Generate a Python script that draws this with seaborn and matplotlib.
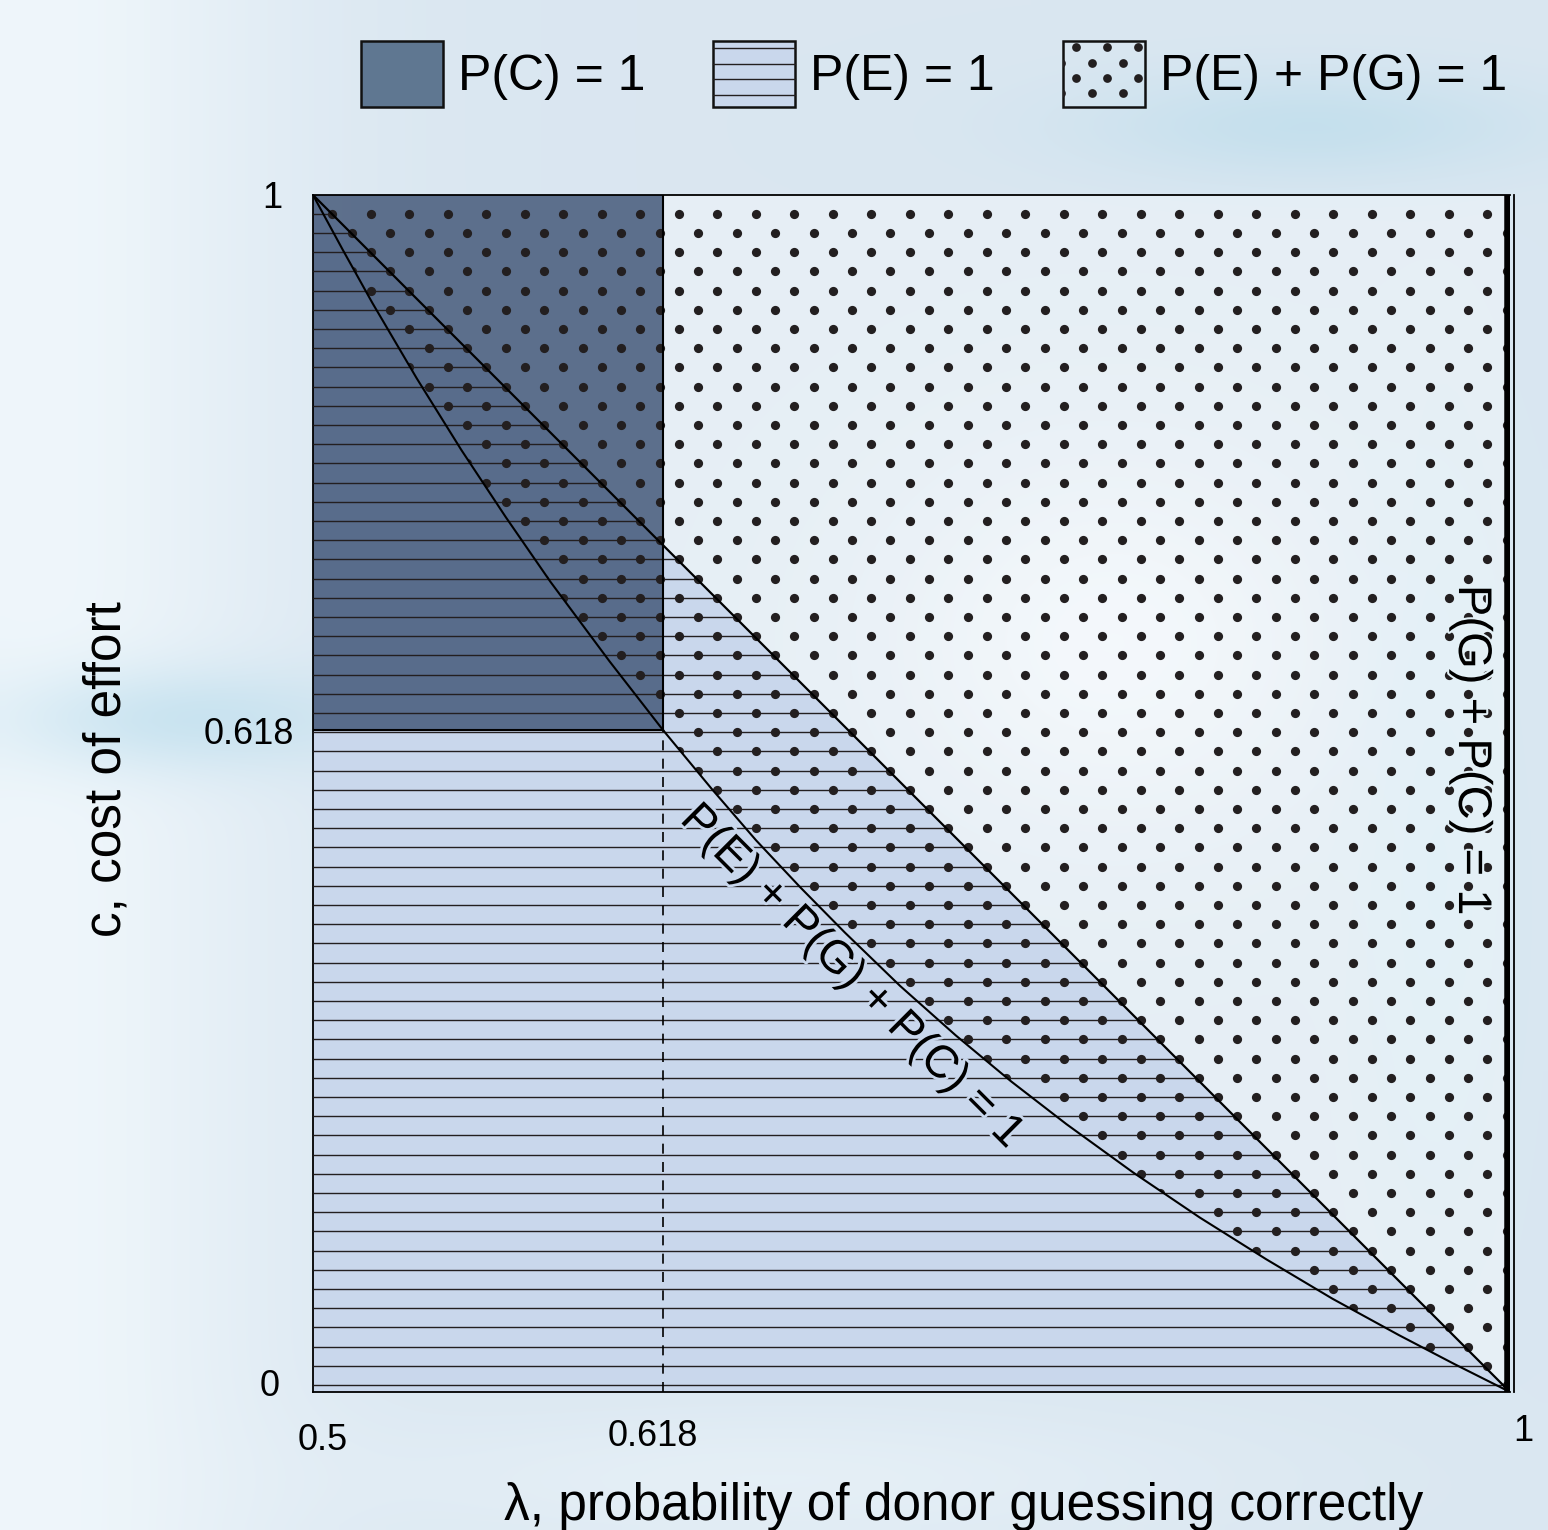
import numpy as np
import matplotlib
matplotlib.use("Agg")
import matplotlib.pyplot as plt
import seaborn as sns
from matplotlib.patches import Polygon, Rectangle
from matplotlib.legend_handler import HandlerBase
from matplotlib.lines import Line2D
from matplotlib.collections import LineCollection
import matplotlib.patheffects as pe
import matplotlib.transforms as mtransforms

# ---------------- data ----------------
lam_ticks = [0.5, 0.618, 1.0]
lam_tick_labels = ["0.5", "0.618", "1"]
c_ticks = [0.0, 0.618, 1.0]
c_tick_labels = ["0", "0.618", "1"]

# schematic (non-linear) axes: where each tick value sits along the axis
lam_axis_frac = [0.0, 0.2924, 1.0]
c_axis_frac = [0.0, 0.553, 1.0]

# boundary P(E) + P(G) + P(C) = 1 (curve)
curve_lam = [0.500, 0.510, 0.520, 0.535, 0.550, 0.565, 0.580, 0.600, 0.618,
             0.640, 0.660, 0.680, 0.700, 0.725, 0.750, 0.775, 0.800, 0.830,
             0.860, 0.890, 0.920, 0.950, 0.975, 1.000]
curve_c = [1.000, 0.961, 0.923, 0.869, 0.818, 0.770, 0.724, 0.667, 0.618,
           0.563, 0.515, 0.471, 0.429, 0.379, 0.333, 0.290, 0.250, 0.205,
           0.163, 0.124, 0.087, 0.053, 0.026, 0.000]
# straight upper boundary of the P(E) = 1 region
diag_lam = [0.500, 0.618, 0.7015, 1.000]
diag_c = [1.000, 0.750, 0.618, 0.000]
# P(C) = 1 box
pc_lam = [0.5, 0.618]
pc_c = [0.618, 1.0]
lam_edge = 1.0

legend_labels = ["P(C) = 1", "P(E) = 1", "P(E) + P(G) = 1"]
curve_label = "P(E) + P(G) + P(C) = 1"
edge_label = "P(G) + P(C) = 1"
xlabel = "λ, probability of donor guessing correctly"
ylabel = "c, cost of effort"

# ---------------- style ----------------
sns.set_style("white")
plt.rcParams["font.family"] = ["Liberation Sans", "DejaVu Sans"]
plt.rcParams["text.color"] = "black"
plt.rcParams["axes.labelcolor"] = "black"
plt.rcParams["xtick.color"] = "black"
plt.rcParams["ytick.color"] = "black"

DARK = "#44597a"
LIGHT = "#c9d7ec"
INK = "#231f20"

DPI = 100
fig = plt.figure(figsize=(15.48, 15.30), dpi=DPI)

# ---------- decorative background ----------
bg = fig.add_axes([0, 0, 1, 1], zorder=-10)
H, W = 160, 162
u = np.linspace(0, 1, W)[None, :]
v = np.linspace(0, 1, H)[:, None]
img = np.ones((H, W, 3)) * np.array([0.855, 0.905, 0.945])


def blend(img, w, col):
    w = np.clip(w, 0, 1)[..., None]
    return img * (1 - w) + np.array(col) * w


img = blend(img, 0.85 * np.exp(-((u - 0.02) / 0.16) ** 2) * np.ones_like(v), (0.95, 0.975, 0.99))
img = blend(img, 0.7 * np.exp(-((u - 0.12) / 0.12) ** 2 - ((v - 0.47) / 0.035) ** 2), (0.74, 0.87, 0.93))
img = blend(img, 0.6 * np.exp(-((u - 0.85) / 0.15) ** 2 - ((v - 0.08) / 0.035) ** 2), (0.72, 0.86, 0.92))
img = blend(img, 0.7 * np.exp(-((u - 0.72) / 0.14) ** 2 - ((v - 0.42) / 0.12) ** 2), (0.97, 0.985, 0.995))
img = blend(img, 0.6 * np.exp(-((u - 0.93) / 0.05) ** 2 - ((v - 0.55) / 0.25) ** 2), (0.82, 0.92, 0.96))
img = blend(img, 0.5 * np.exp(-((u - 0.5) / 0.3) ** 2 - ((v - 0.97) / 0.05) ** 2), (0.94, 0.97, 0.985))
bg.imshow(img, extent=[0, 1, 0, 1], aspect="auto", interpolation="bilinear", origin="upper")
bg.set_axis_off()

# ---------- main axes ----------
ax = fig.add_axes([313 / 1548, 138 / 1530, 1197 / 1548, 1197 / 1530])
ax.set_facecolor("none")


def piecewise(pts, frac):
    pts = np.asarray(pts, float)
    frac = np.asarray(frac, float)
    s0 = (frac[1] - frac[0]) / (pts[1] - pts[0])
    s1 = (frac[-1] - frac[-2]) / (pts[-1] - pts[-2])

    def fwd(x):
        x = np.asarray(x, float)
        out = np.interp(x, pts, frac)
        out = np.where(x < pts[0], frac[0] + (x - pts[0]) * s0, out)
        out = np.where(x > pts[-1], frac[-1] + (x - pts[-1]) * s1, out)
        return out

    def inv(y):
        y = np.asarray(y, float)
        out = np.interp(y, frac, pts)
        out = np.where(y < frac[0], pts[0] + (y - frac[0]) / s0, out)
        out = np.where(y > frac[-1], pts[-1] + (y - frac[-1]) / s1, out)
        return out

    return fwd, inv


# boundary lines via seaborn
sns.lineplot(x=curve_lam, y=curve_c, color="black", lw=1.5, ax=ax, zorder=6)
sns.lineplot(x=diag_lam, y=diag_c, color="black", lw=1.6, ax=ax, zorder=6)

ax.set_xscale("function", functions=piecewise(lam_ticks, lam_axis_frac))
ax.set_yscale("function", functions=piecewise(c_ticks, c_axis_frac))

# region fills
below_diag = Polygon(list(zip([pc_lam[0]] + diag_lam + [lam_edge], [0.0] + diag_c + [0.0])),
                     closed=True, facecolor=LIGHT, edgecolor="none", zorder=1)
above_diag = Polygon(list(zip(diag_lam + [lam_edge], diag_c + [1.0])),
                     closed=True, facecolor="white", alpha=0.35, edgecolor="none", zorder=1)
above_curve = Polygon(list(zip(curve_lam + [lam_edge], curve_c + [1.0])),
                      closed=True, facecolor="none", edgecolor="none", zorder=1)
ax.add_patch(below_diag)
ax.add_patch(above_diag)
ax.add_patch(above_curve)

pc_box = Rectangle((pc_lam[0], pc_c[0]), pc_lam[1] - pc_lam[0], pc_c[1] - pc_c[0],
                   facecolor=DARK, alpha=0.85, edgecolor="none", zorder=2)
ax.add_patch(pc_box)

# textures (hatch-like patterns in axes coordinates)
step_y = 19.2 / 1197
step_x = 19.25 / 1197
y0 = 7 / 1197
rows = np.arange(y0, 1.0, step_y)
segs = [[(0, yy), (1, yy)] for yy in rows]
lc = LineCollection(segs, colors=INK, linewidths=1.0, transform=ax.transAxes, zorder=3)
ax.add_collection(lc)
lc.set_clip_path(below_diag)

cols = np.arange(0, 1.0 + step_x / 2, step_x)
dx, dy = [], []
for k, yy in enumerate(rows):
    for j, xx in enumerate(cols):
        if (j + k) % 2 == 0:
            dx.append(xx)
            dy.append(yy)
sc = ax.scatter(dx, dy, s=44, color=INK, linewidths=0, transform=ax.transAxes, zorder=4)
sc.set_clip_path(above_curve)

# P(C) box edges and guide
ax.plot([pc_lam[1], pc_lam[1]], [pc_c[0], pc_c[1]], color="black", lw=1.5, zorder=6)
ax.plot([pc_lam[0], pc_lam[1]], [pc_c[0], pc_c[0]], color="black", lw=1.5, zorder=6)
ax.plot([pc_lam[1], pc_lam[1]], [0, pc_c[0]], color="black", lw=1.2,
        linestyle=(0, (6, 5)), zorder=6)
ax.axvline(lam_edge, color="black", lw=9, zorder=6)

ax.set_xlim(lam_ticks[0], lam_ticks[-1])
ax.set_ylim(c_ticks[0], c_ticks[-1])

for s in ax.spines.values():
    s.set_color("black")
    s.set_linewidth(1.3)
    s.set_visible(True)
ax.spines["right"].set_position(("outward", 3))

ax.set_xticks(lam_ticks, labels=lam_tick_labels)
ax.set_yticks(c_ticks, labels=c_tick_labels)
ax.tick_params(axis="both", length=0, labelsize=26, colors="black", labelcolor="black")
ax.tick_params(axis="x", pad=21)
ax.tick_params(axis="y", pad=14)
ax.grid(False)

ax.set_xlabel(xlabel, fontsize=37, color="black")
ax.set_ylabel(ylabel, fontsize=37, color="black")
ax.xaxis.set_label_coords(0.544, -0.075)
ax.yaxis.set_label_coords(-0.152, 0.52)

# annotations
ax.text(0.450, 0.347, curve_label, transform=ax.transAxes, rotation=-45,
        rotation_mode="anchor", ha="center", va="center", fontsize=33, zorder=7,
        color="black", path_effects=[pe.withStroke(linewidth=4, foreground=LIGHT)])
ax.text(0.9674, 0.5363, edge_label, transform=ax.transAxes, rotation=-90,
        rotation_mode="anchor", ha="center", va="center", fontsize=34, zorder=7,
        color="black", path_effects=[pe.withStroke(linewidth=3, foreground="#e4f1f7")])


# ---------- legend ----------
class TextureHandler(HandlerBase):
    def __init__(self, kind):
        super().__init__()
        self.kind = kind

    def create_artists(self, legend, orig_handle, xdescent, ydescent, width, height,
                       fontsize, trans):
        x0, yb = -xdescent, -ydescent
        rect = Rectangle((x0, yb), width, height, facecolor=orig_handle.get_facecolor(),
                         edgecolor="#111111", lw=1.8, transform=trans)
        arts = [rect]
        step = height / 4.27
        if self.kind == "lines":
            for k in range(4):
                yy = yb + height - (0.47 + k) * step
                arts.append(Line2D([x0, x0 + width], [yy, yy], color=INK, lw=1.0,
                                   transform=trans))
        elif self.kind == "dots":
            xs, ys = [], []
            for k in range(4):
                yy = yb + height - (0.4 + k) * step
                start = 0.88 if k % 2 == 0 else -0.1
                for j in range(3):
                    xx = x0 + (start + 2 * j) * step
                    if xx < x0 + width:
                        xs.append(xx)
                        ys.append(yy)
            dots = Line2D(xs, ys, ls="none", marker="o", ms=6.3, color=INK,
                          markeredgewidth=0, transform=trans)
            dots.set_clip_path(rect)
            arts.append(dots)
        return arts


h1 = Rectangle((0, 0), 1, 1, facecolor="#5f7791")
h2 = Rectangle((0, 0), 1, 1, facecolor=LIGHT)
h3 = Rectangle((0, 0), 1, 1, facecolor="none")
leg = fig.legend([h1, h2, h3], legend_labels, loc="center", bbox_to_anchor=(0.6035, 0.9516),
                 ncol=3, frameon=False, fontsize=36, handlelength=1.64, handleheight=1.64,
                 handletextpad=0.3, columnspacing=1.35, borderpad=0,
                 handler_map={h1: TextureHandler("solid"), h2: TextureHandler("lines"),
                              h3: TextureHandler("dots")})
for t in leg.get_texts():
    t.set_color("black")


# fine placement of the schematic tick labels (pixel offsets)
def shift(lbl, dxp, dyp):
    lbl.set_transform(lbl.get_transform() +
                      mtransforms.ScaledTranslation(dxp / DPI, dyp / DPI, fig.dpi_scale_trans))


xl = ax.get_xticklabels()
yl = ax.get_yticklabels()
shift(xl[0], 10, -2)
shift(xl[1], -10, 2)
shift(xl[2], 13, 7)
shift(yl[0], -14, 9)
shift(yl[2], -11, 0)

fig.savefig("out.png", dpi=DPI)
